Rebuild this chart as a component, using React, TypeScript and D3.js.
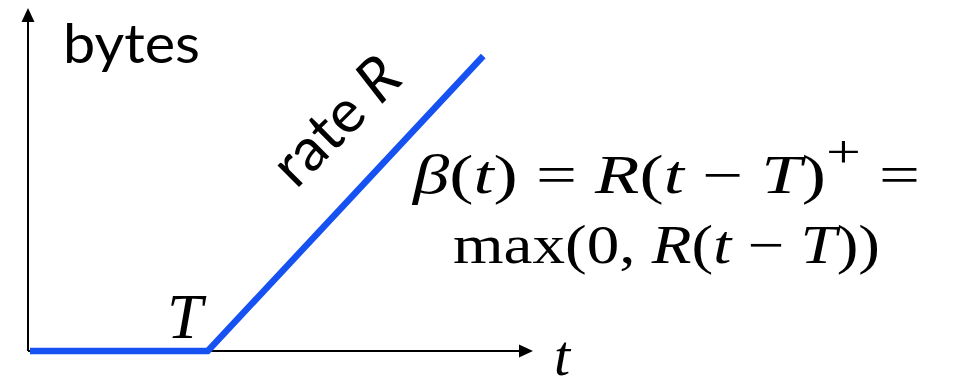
import React from 'react';
import * as d3 from 'd3';

const width = 980;
const height = 387;

// service curve: flat until the latency T, then rises with rate R
const times = [0, 10, 25.5];
const bytes = [0, 0, 16.6];
const axisMax = { t: 28.3, bytes: 19.3 };

const labels = {
  y: 'bytes',
  x: 't',
  latency: 'T',
  rate: 'rate ',
  rateSym: 'R'
};

const blue = '#1652f2';
const sans = 'Lato, "Open Sans", sans-serif';
const serif = '"Liberation Serif", "DejaVu Serif", serif';

const xScale = d3.scaleLinear().domain([0, axisMax.t]).range([30, 533]);
const yScale = d3.scaleLinear().domain([0, axisMax.bytes]).range([351, 8]);

const App = () => {
  const pts = times.map((t, i) => [xScale(t), yScale(bytes[i])] as [number, number]);
  const line = d3.line();

  const x0 = xScale(0) - 2;
  const y0 = yScale(0);
  const xEnd = xScale(axisMax.t);
  const yTop = yScale(axisMax.bytes);

  return (
    <svg width={width} height={height} style={{ position: 'fixed', left: 0, top: 0, background: '#fff' }}>
      {/* axes */}
      <line x1={x0} y1={y0} x2={x0} y2={yTop + 12} stroke="#000" strokeWidth={2} />
      <path d={`M${x0},${yTop} L${x0 - 6.5},${yTop + 14} L${x0 + 6.5},${yTop + 14} Z`} fill="#000" />
      <line x1={x0} y1={y0} x2={xEnd - 12} y2={y0} stroke="#000" strokeWidth={2} />
      <path d={`M${xEnd},${y0} L${xEnd - 14},${y0 - 6.5} L${xEnd - 14},${y0 + 6.5} Z`} fill="#000" />

      {/* curve */}
      <path d={line(pts) || ''} fill="none" stroke={blue} strokeWidth={6.5} strokeLinejoin="miter" />

      {/* labels */}
      <text x={63} y={63} fontFamily={sans} fontSize={54} textLength={137} lengthAdjust="spacingAndGlyphs">{labels.y}</text>
      <text x={167} y={338} fontFamily={serif} fontStyle="italic" fontSize={64}>{labels.latency}</text>
      <text x={554} y={375} fontFamily={serif} fontStyle="italic" fontSize={58}>{labels.x}</text>

      <text transform="translate(296,190) rotate(-45)" fontFamily={sans} fontSize={60}>
        {labels.rate}
        <tspan fontStyle="italic">{labels.rateSym}</tspan>
      </text>

      {/* formula */}
      <text x={413} y={193} fontFamily={serif} fontSize={54} textLength={507} lengthAdjust="spacingAndGlyphs">
        <tspan fontStyle="italic">β</tspan>(<tspan fontStyle="italic">t</tspan>) = <tspan fontStyle="italic">R</tspan>(<tspan fontStyle="italic">t</tspan> − <tspan fontStyle="italic">T</tspan>)<tspan dy={-26} fontSize={46}>+</tspan><tspan dy={26}> =</tspan>
      </text>
      <text x={453} y={263} fontFamily={serif} fontSize={54} textLength={427} lengthAdjust="spacingAndGlyphs">
        max(0, <tspan fontStyle="italic">R</tspan>(<tspan fontStyle="italic">t</tspan> − <tspan fontStyle="italic">T</tspan>))
      </text>
    </svg>
  );
};

export default App;
